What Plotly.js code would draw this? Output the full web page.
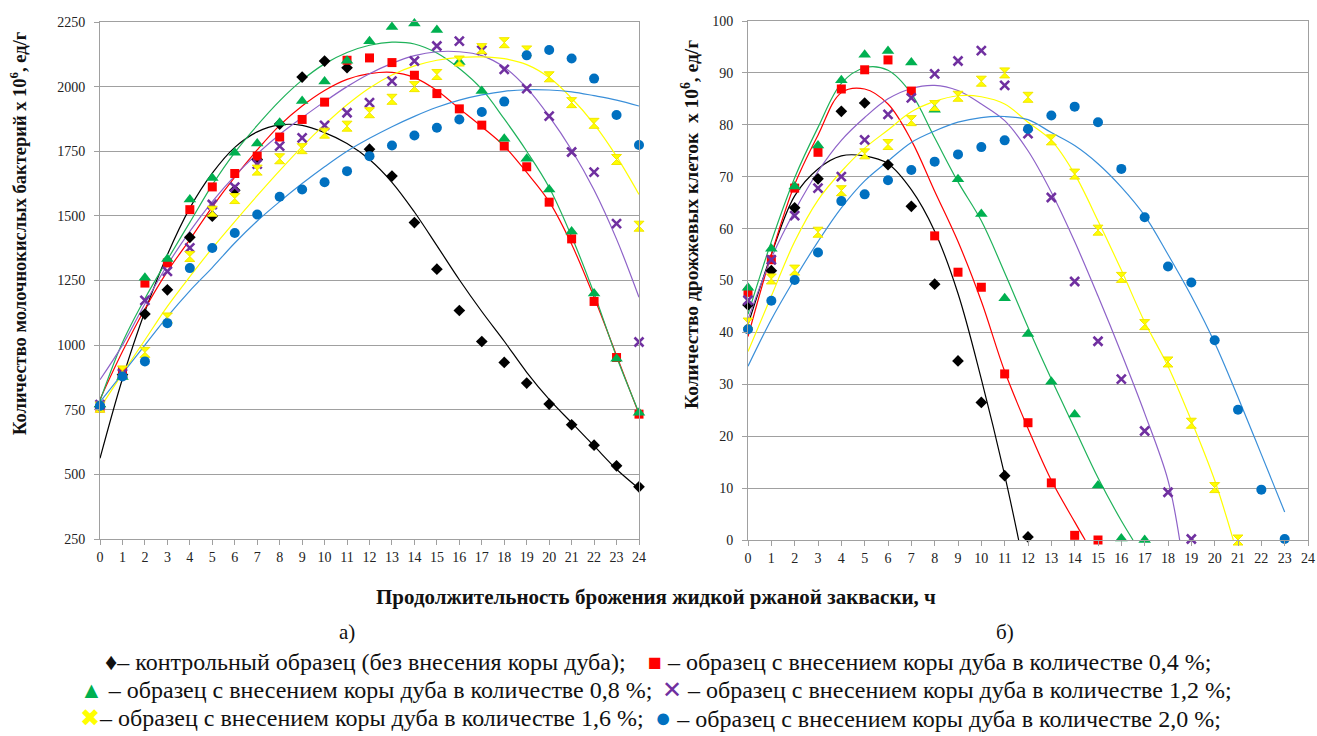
<!DOCTYPE html>
<html><head><meta charset="utf-8">
<script src="https://cdn.plot.ly/plotly-3.0.1.min.js"></script>
<style>html,body{margin:0;padding:0;background:#fff}#chart{width:1317px;height:736px}</style>
</head><body><div id="chart"></div>
<script>
// ---------- DATA ----------
const hours = [0,1,2,3,4,5,6,7,8,9,10,11,12,13,14,15,16,17,18,19,20,21,22,23,24];
const seriesNames = ['контрольный образец', '0,4 %', '0,8 %', '1,2 %', '1,6 %', '2,0 %'];

// (а) lactic acid bacteria, x10^6 CFU/g
const lacCtrl = [762,885,1120,1214,1417,1499,1599,1718,1855,2037,2099,2073,1758,1654,1474,1294,1134,1014,933,853,772,692,613,533,452];
const lac04   = [757,902,1240,1318,1524,1612,1664,1731,1805,1873,1940,2102,2111,2093,2044,1973,1914,1851,1770,1690,1553,1411,1169,952,733];
const lac08   = [770,877,1261,1333,1563,1647,1744,1780,1860,1944,2020,2100,2176,2231,2244,2219,2095,1983,1798,1721,1602,1440,1200,947,738];
const lac12   = [770,890,1173,1285,1376,1544,1611,1700,1770,1802,1850,1899,1938,2021,2099,2157,2176,2140,2067,1992,1886,1747,1669,1470,1012];
const lac16   = [760,900,972,1105,1343,1518,1567,1677,1721,1760,1820,1847,1899,1951,2000,2047,2099,2147,2170,2138,2038,1938,1858,1718,1460];
const lac20   = [765,879,937,1085,1298,1376,1434,1505,1574,1602,1630,1673,1731,1772,1811,1841,1873,1902,1942,2121,2142,2109,2031,1890,1774];

// trend lines (а) at each hour
const lacTrCtrl = [562,870,1130,1350,1530,1665,1765,1825,1852,1850,1822,1780,1718,1630,1515,1385,1253,1130,1015,895,790,700,610,520,445];
const lacTr04   = [790,975,1140,1285,1408,1535,1650,1755,1850,1925,1985,2028,2050,2055,2035,1985,1915,1845,1770,1668,1555,1390,1185,960,733];
const lacTr08   = [785,1010,1180,1330,1475,1620,1745,1850,1945,2025,2088,2132,2160,2172,2165,2130,2070,1990,1875,1750,1610,1420,1200,955,738];
const lacTr12   = [866,1000,1160,1310,1440,1555,1655,1740,1815,1880,1942,2000,2050,2090,2120,2135,2135,2120,2075,1995,1885,1755,1600,1410,1185];
const lacTr16   = [757,890,1020,1150,1265,1375,1478,1578,1675,1768,1853,1930,1995,2045,2080,2102,2113,2115,2108,2085,2035,1955,1855,1730,1583];
const lacTr20   = [780,890,1000,1110,1210,1300,1395,1480,1555,1625,1690,1750,1800,1845,1885,1920,1948,1968,1982,1988,1987,1980,1965,1948,1925];

// (б) yeast cells, x10^6 CFU/g
const yeCtrl = [45.3,51.9,64,69.6,82.6,84.2,72.3,64.3,49.3,34.5,26.5,12.4,0.6];
const ye04   = [47.7,54,67.8,74.7,86.9,90.6,92.5,86.5,58.6,51.6,48.7,32,22.6,11,0.9,0];
const ye08   = [48.6,56.1,68.1,76,88.6,93.5,94.2,92,82.9,69.5,62.8,46.6,39.7,30.5,24.2,10.5,0.3,0];
const ye12   = [46.2,54,62.5,67.8,70,77.1,82,85.2,89.8,92.3,94.3,87.6,78.3,66,49.8,38.3,31,21,9.2,0.2];
const ye16   = [41.8,50.3,52,59.3,67.3,74.4,76.2,80.8,83.7,85.5,88.4,90,85.3,77.1,70.5,59.7,50.6,41.5,34.3,22.5,10.1,0];
const ye20   = [40.6,46.1,50.1,55.4,65.3,66.6,69.3,71.3,72.9,74.3,75.7,77,79.2,81.8,83.5,80.5,71.5,62.2,52.7,49.6,38.5,25.1,9.7,0.2];

// trend lines (б): hours and values (until the line meets 0)
const yeTrCtrlX = [0,1,2,3,4,5,6,7,8,9,10,11,11.6];
const yeTrCtrl  = [41.5,55,66.3,71.5,74,74,72.5,67.5,59.5,47.5,31,12.5,0];
const yeTr04X = [0,1,2,3,4,5,6,7,8,9,10,11,12,13,14,14.45];
const yeTr04  = [39.2,55,68.5,78,86.2,86.9,84,77,67.2,57.5,46,32.5,21.5,11.5,3.5,0];
const yeTr08X = [0,1,2,3,4,5,6,7,8,9,10,11,12,13,14,15,16,16.5];
const yeTr08  = [43.5,57.5,69.8,79.5,88,91,90.5,86,77.5,69,61.5,51.5,41,31,21.5,12,3.7,0];
const yeTr12X = [0,1,2,3,4,5,6,7,8,9,10,11,12,13,14,15,16,17,18,18.5];
const yeTr12  = [42.5,54.3,63.4,71,77,81.4,85,87,87.6,86.6,84,80.8,75,67,57.5,47,36,24.4,11.5,0];
const yeTr16X = [0,1,2,3,4,5,6,7,8,9,10,11,12,13,14,15,16,17,18,19,20,20.8];
const yeTr16  = [36.3,47,57.5,65.5,71,75.5,79,82.5,84.5,85.6,85.4,84,80.5,77,70.5,61.5,52,42,33.5,23,11.5,0];
const yeTr20X = [0,1,2,3,4,5,6,7,8,9,10,11,12,13,14,15,16,17,18,19,20,21,22,23];
const yeTr20  = [33.5,42.5,50.3,57.5,64,69.2,73,76.6,78.8,80.5,81.4,81.6,81,78.5,76,72.5,68,62.5,55,47,38,27.5,16.5,5.4];

const tickHours = hours;

// ---------- STYLE ----------
const W = 1317, H = 736;
const markerColors = ['#000000','#ff0000','#00b050','#7030a0','#ffff00','#0070c0'];
const lineColors   = ['#000000','#ff0000','#1fb25a','#8e62c8','#ffff00','#3a8fd9'];
const markerSpecs = [
  {symbol:'diamond', size:9, color:markerColors[0], line:{width:0}},
  {symbol:'square', size:9, color:markerColors[1], line:{width:0}},
  {symbol:'triangle-up', size:11, color:markerColors[2], line:{width:0}},
  {symbol:'x-thin-open', size:9, color:markerColors[3], line:{width:2.6, color:markerColors[3]}},
  {symbol:'hourglass', size:10, color:markerColors[4], line:{width:1, color:'#f2e600'}},
  {symbol:'circle', size:10, color:markerColors[5], line:{width:0}}
];

const traces = [];
function addPanel(xa, ya, trX, trY, ptX, ptY) {
  for (let i = 0; i < 6; i++) {
    traces.push({x: trX[i], y: trY[i], xaxis: xa, yaxis: ya, type:'scatter', mode:'lines',
      line:{color: lineColors[i], width:1.2, shape:'spline', smoothing:1}, hoverinfo:'skip', showlegend:false});
  }
  for (let i = 0; i < 6; i++) {
    traces.push({x: ptX[i], y: ptY[i], xaxis: xa, yaxis: ya, type:'scatter', mode:'markers',
      name: seriesNames[i], marker: markerSpecs[i], cliponaxis:false, showlegend:false});
  }
}
addPanel('x','y',
  [hours,hours,hours,hours,hours,hours],
  [lacTrCtrl,lacTr04,lacTr08,lacTr12,lacTr16,lacTr20],
  [hours,hours,hours,hours,hours,hours],
  [lacCtrl,lac04,lac08,lac12,lac16,lac20]);
addPanel('x2','y2',
  [yeTrCtrlX,yeTr04X,yeTr08X,yeTr12X,yeTr16X,yeTr20X],
  [yeTrCtrl,yeTr04,yeTr08,yeTr12,yeTr16,yeTr20],
  [hours.slice(0,yeCtrl.length),hours.slice(0,ye04.length),hours.slice(0,ye08.length),hours.slice(0,ye12.length),hours.slice(0,ye16.length),hours.slice(0,ye20.length)],
  [yeCtrl,ye04,ye08,ye12,ye16,ye20]);

const serif = 'Liberation Serif';
const tickFont = {family: serif, size: 14, color:'#222'};
const axisBase = {showline:true, linecolor:'#a0a0a0', linewidth:1, mirror:true, ticks:'outside', ticklen:5,
  tickcolor:'#a0a0a0', zeroline:false, tickfont: tickFont, fixedrange:true};

const xaxisBase = Object.assign({}, axisBase, {range:[0,24], tickmode:'array', tickvals: tickHours, ticktext: tickHours.map(String), showgrid:false});

const layout = {
  width: W, height: H, margin:{l:0,r:0,t:0,b:0}, paper_bgcolor:'#fff', plot_bgcolor:'#fff', showlegend:false,
  font:{family: serif},
  xaxis: Object.assign({}, xaxisBase, {domain:[100/W, 639/W], anchor:'y'}),
  yaxis: Object.assign({}, axisBase, {domain:[1-539/H, 1-22/H], range:[250,2250], dtick:250, tick0:250,
     showgrid:true, gridcolor:'#a0a0a0', gridwidth:1, anchor:'x', ticklabelstandoff:6}),
  xaxis2: Object.assign({}, xaxisBase, {domain:[748/W, 1308/W], anchor:'y2'}),
  yaxis2: Object.assign({}, axisBase, {domain:[1-540/H, 1-21/H], range:[0,100], dtick:10, tick0:0,
     showgrid:true, gridcolor:'#a0a0a0', gridwidth:1, anchor:'x2', ticklabelstandoff:6}),
  annotations: []
};

function ann(px, py, text, opts) {
  layout.annotations.push(Object.assign({xref:'paper', yref:'paper', x: px/W, y: 1-py/H, text: text,
    showarrow:false, xanchor:'center', yanchor:'middle', font:{family: serif, size:18, color:'#111'}}, opts||{}));
}
// axis titles
ann(18, 234, '<b>Количество молочнокислых бактерий х 10<sup>6</sup>, ед/г</b>', {textangle:-90, font:{family:serif, size:18.5, color:'#111'}});
ann(690, 225, '<b>Количество дрожжевых клеток  х 10<sup>6</sup>, ед/г</b>', {textangle:-90, font:{family:serif, size:19.5, color:'#111'}});
ann(656, 597, '<b>Продолжительность брожения жидкой ржаной закваски, ч</b>', {font:{family:serif, size:21, color:'#111'}});
ann(347, 632, 'а)', {font:{family:serif, size:21, color:'#111'}});
ann(1005, 632, 'б)', {font:{family:serif, size:21, color:'#111'}});

// legend rows
const lg = {xanchor:'left', font:{family:serif, size:24, color:'#111'}};
ann(103, 662, '<span style="font-size:24px">♦</span>– контрольный образец (без внесения коры дуба);', lg);
ann(646, 662, '<span style="color:#ff0000;font-size:23px">■</span> – образец с внесением коры дуба в количестве 0,4 %;', lg);
ann(78, 690, '<span style="color:#00b050;font-size:23px">▲</span> – образец с внесением коры дуба в количестве 0,8 %;', lg);
ann(660, 690, '<span style="color:#7030a0;font-size:24px">✕</span> – образец с внесением коры дуба в количестве 1,2 %;', lg);
ann(78, 718, '<span style="color:#ffff00;font-size:24px">✖</span>– образец с внесением коры дуба в количестве 1,6 %;', lg);
ann(653, 718, '<span style="color:#0070c0;font-size:27px">●</span> – образец с внесением коры дуба в количестве 2,0 %;', lg);

Plotly.newPlot('chart', traces, layout, {displayModeBar:false, staticPlot:true});
</script></body></html>
